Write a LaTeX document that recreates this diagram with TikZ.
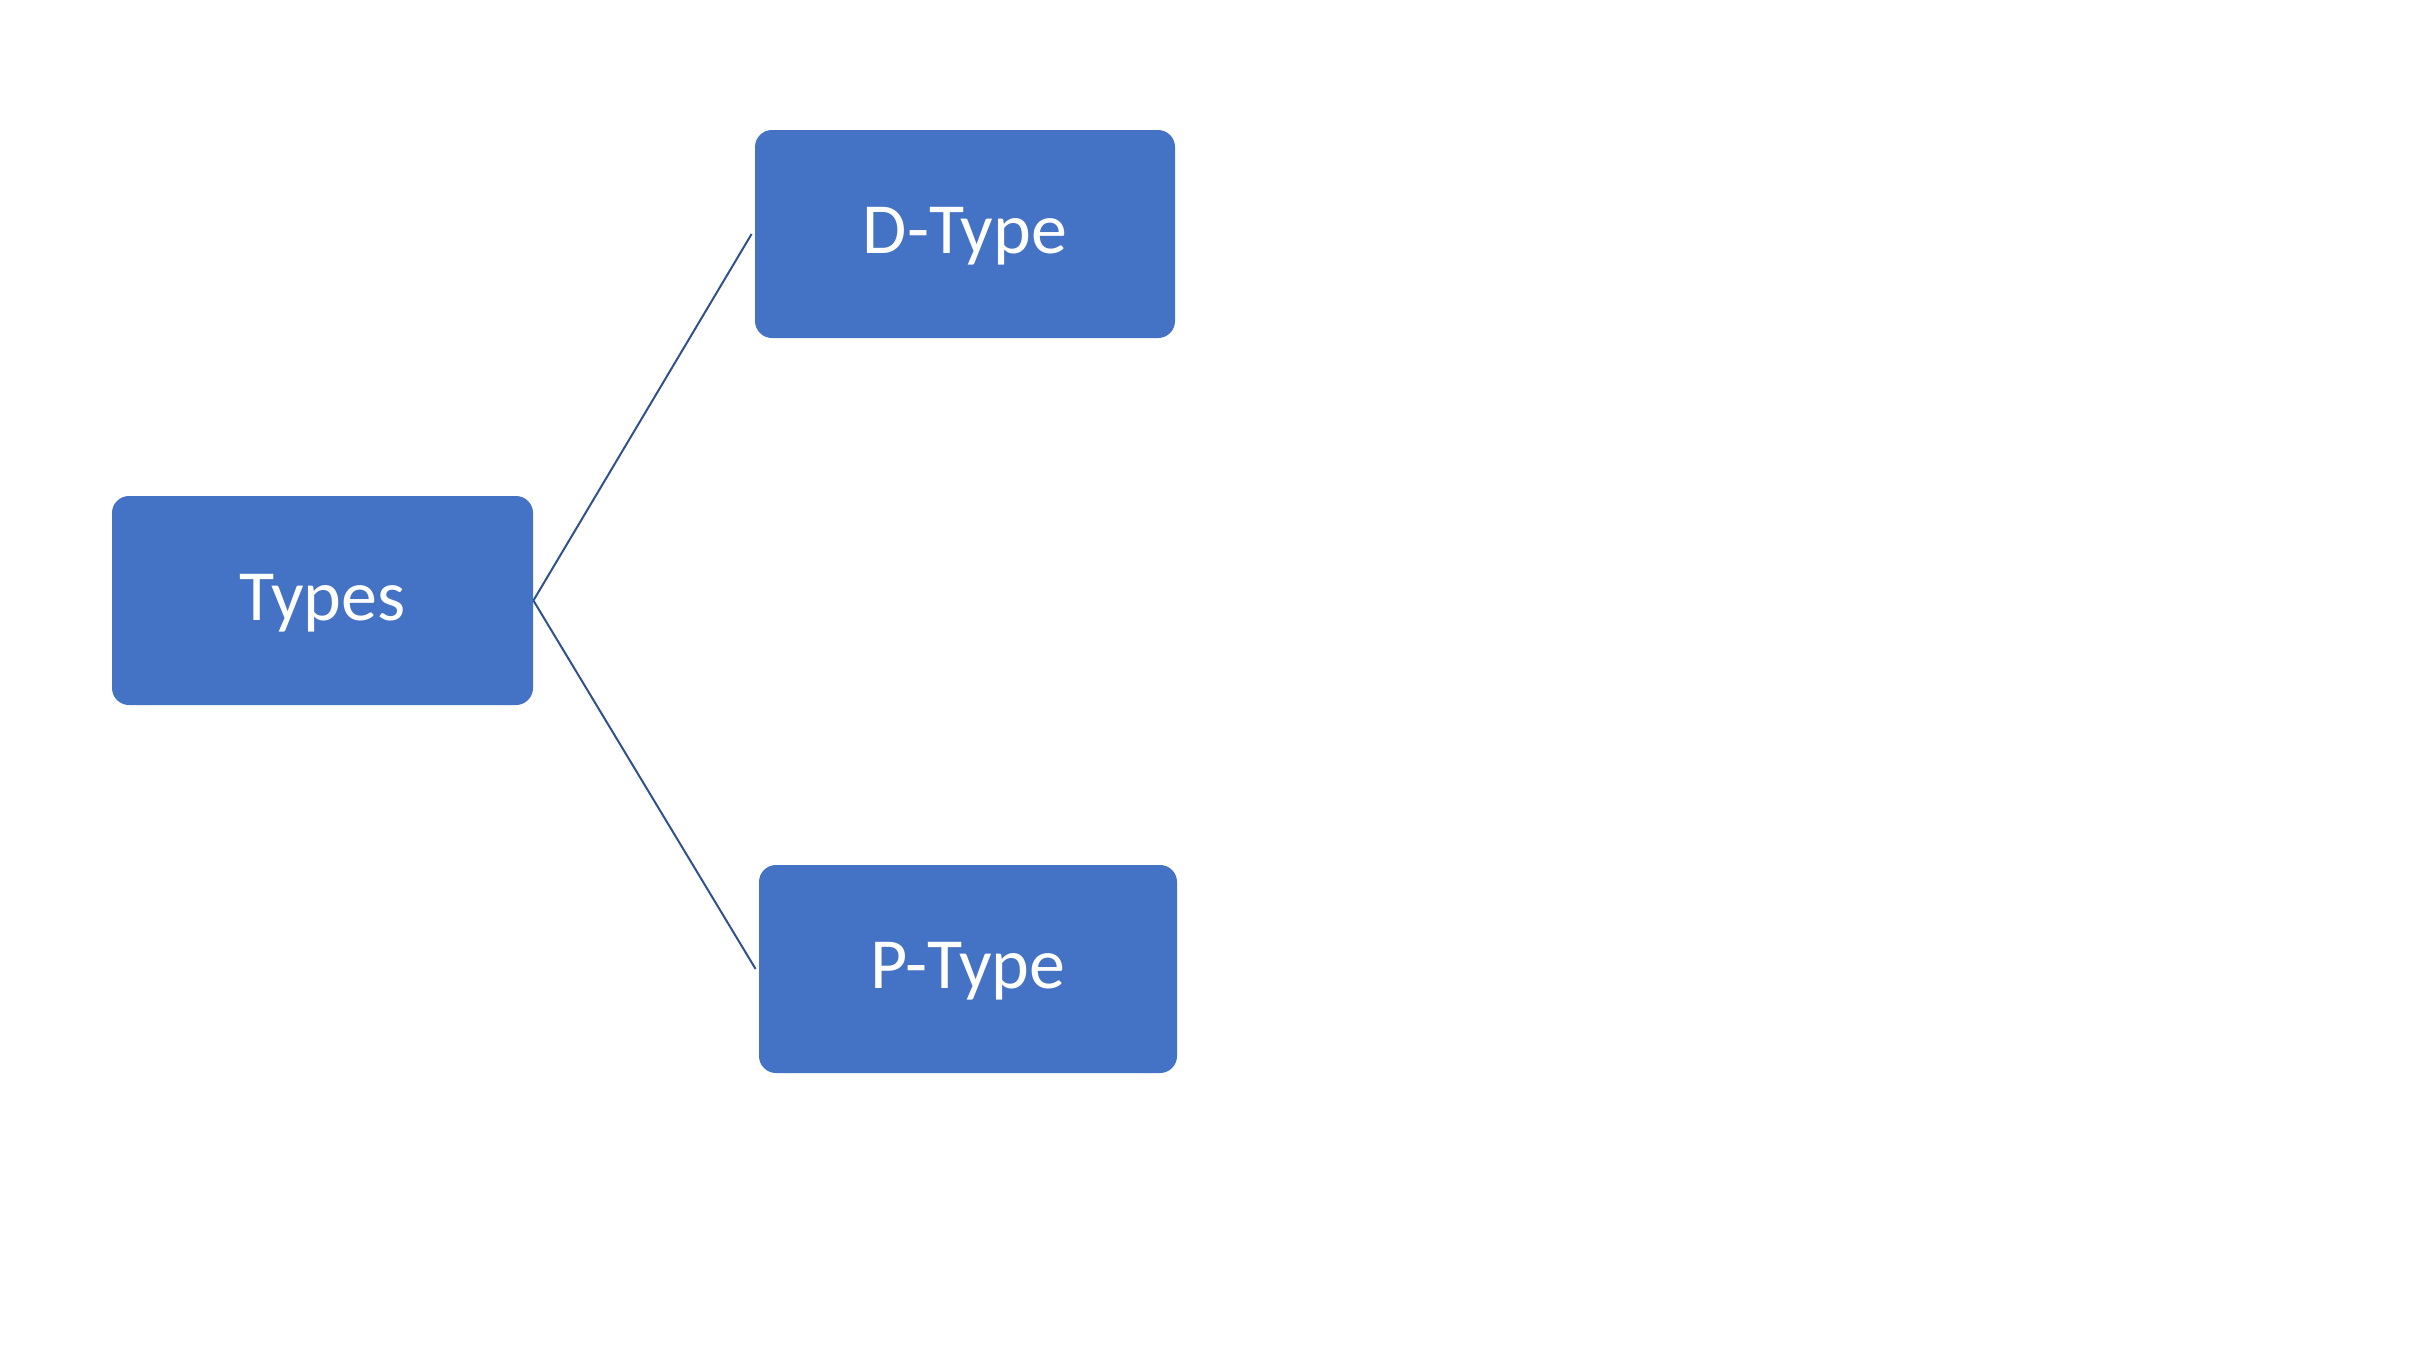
\documentclass[tikz,border=0pt]{standalone}
\usepackage{fontspec}
\setmainfont{Carlito}
\definecolor{boxblue}{HTML}{4472C4}
\definecolor{lineblue}{HTML}{2F528F}
\tikzset{
  typebox/.style={fill=boxblue, draw=none, rounded corners=8.5pt, inner sep=0pt,
    text=white, font=\fontsize{36pt}{40pt}\selectfont, text height=23.5pt, text depth=4pt},
  link/.style={draw=lineblue, line width=1pt}
}
\begin{document}
\begin{tikzpicture}[x=0.5pt,y=-0.5pt]
\useasboundingbox (0,0) rectangle (2434,1354);
\node[typebox, minimum width=210.5pt, minimum height=104.5pt] (types) at (322.5,600.5) {Types};
\node[typebox, minimum width=210pt, minimum height=104pt] (dtype) at (965,234) {D-Type};
\node[typebox, minimum width=209pt, minimum height=104pt] (ptype) at (968,969) {P-Type};
\draw[link] (types.east) -- ([xshift=-1.5pt]dtype.west);
\draw[link] (types.east) -- ([xshift=-1.5pt]ptype.west);
\end{tikzpicture}
\end{document}
